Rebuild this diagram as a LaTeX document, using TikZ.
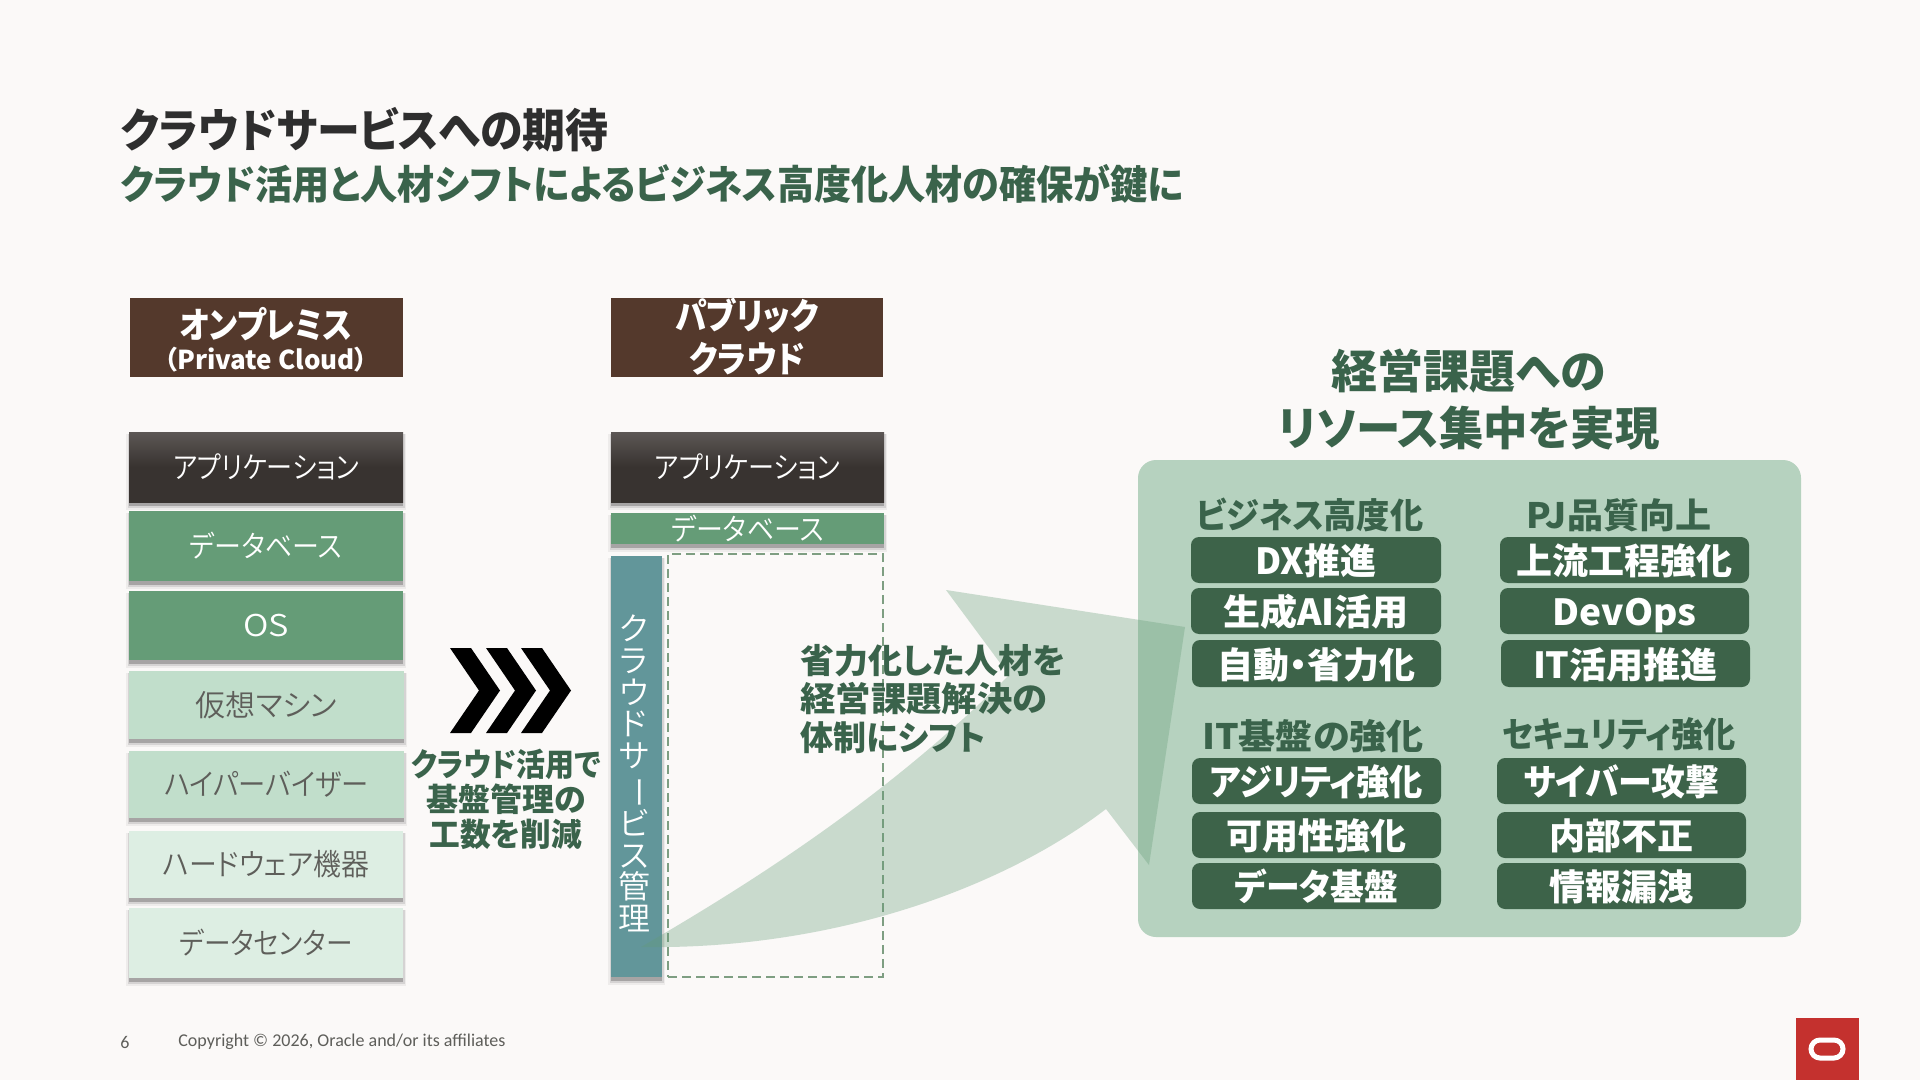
\documentclass[tikz,border=0pt]{standalone}
\usepackage{fontspec}
\usepackage{graphicx}
\setmainfont{Noto Sans CJK JP}[RawFeature=+palt]
\newfontfamily\lightf{Noto Sans CJK JP DemiLight}[RawFeature=+palt]
\newfontfamily\footfont{Carlito}
\definecolor{bgc}{HTML}{FBF9F8}
\definecolor{hdr}{HTML}{54392C}
\definecolor{appT}{HTML}{5C5755}
\definecolor{appB}{HTML}{383330}
\definecolor{midg}{HTML}{659C77}
\definecolor{lightg}{HTML}{C1DECB}
\definecolor{paleg}{HTML}{DDEEE3}
\definecolor{teal}{HTML}{62969A}
\definecolor{panel}{HTML}{B6D2BF}
\definecolor{pill}{HTML}{3D6349}
\definecolor{tgreen}{HTML}{3A634B}
\definecolor{dashc}{HTML}{7E9E82}
\definecolor{orared}{HTML}{C4312E}
\definecolor{graytx}{HTML}{5E5E5A}
\newcommand{\fs}[1]{\fontsize{#1}{#1}\selectfont}
\newcommand{\sx}[2]{\scalebox{#1}[1]{#2}}
\newcommand{\bx}[7]{%
  \pgfmathsetmacro\bxcx{(#2+#4)/2}%
  \pgfmathsetmacro\bxcy{(#3+#5)/2}%
  \pgfmathsetmacro\bxw{(#4-#2)/2}%
  \pgfmathsetmacro\bxh{(#5-#3)/2}%
  \node[#6,minimum width=\bxw pt,minimum height=\bxh pt,inner sep=0pt,outer sep=0pt] (#1) at (\bxcx,\bxcy) {#7};}
\newcommand{\shd}[4]{%
  \fill[black,opacity=.05] (#1-3,#2+2) rectangle (#3+3,#4+8);
  \fill[black,opacity=.10] (#1-1.5,#2+2) rectangle (#3+1.5,#4+6);
  \fill[black,opacity=.22] (#1,#2+2) rectangle (#3,#4+4);}
\tikzset{
  hdrbox/.style={fill=hdr,text=white,align=center},
  appbox/.style={top color=appT,bottom color=appB,middle color=appB,text=white},
  midbox/.style={fill=midg,text=white},
  lightbox/.style={fill=lightg,text=graytx},
  palebox/.style={fill=paleg,text=graytx},
  pillbox/.style={fill=pill,text=white,rounded corners=4pt,font=\bfseries\fs{18},text height=16.5pt,text depth=2pt},
  head/.style={text=tgreen,font=\bfseries\fs{17.5},inner sep=0pt},
  stacktx/.style={font=\lightf\fs{15}},
  say/.style={text=tgreen,font=\bfseries\fs{17},align=left,inner sep=0pt},
}
\begin{document}
\begin{tikzpicture}[x=.5pt,y=-.5pt]
\useasboundingbox (0,0) rectangle (1920,1080);
\fill[bgc] (0,0) rectangle (1920,1080);

% title
\node[anchor=west,inner sep=0pt,text=black!82,font=\bfseries\fs{23}] (title) at (120,130) {\sx{.933}{クラウドサービスへの期待}};
\node[anchor=west,inner sep=0pt,text=tgreen,font=\bfseries\fs{20}] (subtitle) at (120,184) {\sx{.928}{クラウド活用と人材シフトによるビジネス高度化人材の確保が鍵に}};

% headers
\bx{h1}{130}{298}{403}{377}{hdrbox}{}
\node[text=white,font=\bfseries\fs{18},inner sep=0pt] (h1a) at (266,324) {\sx{.87}{オンプレミス}};
\node[text=white,font=\fs{13},inner sep=0pt] (h1b) at (266,360) {\bfseries（Private Cloud）};
\bx{h2}{611}{298}{883}{377}{hdrbox}{}
\node[text=white,font=\bfseries\fs{18},inner sep=0pt] (h2a) at (747,316) {\sx{.88}{パブリック}};
\node[text=white,font=\bfseries\fs{18},inner sep=0pt] (h2b) at (747,359) {\sx{.88}{クラウド}};

% left stack
\shd{129}{432}{403}{502}
\bx{a1}{129}{432}{403}{502}{appbox,stacktx}{\sx{.87}{アプリケーション}}
\shd{129}{511}{403}{581}
\bx{a2}{129}{511}{403}{581}{midbox,stacktx}{\sx{.9}{データベース}}
\shd{129}{591}{403}{660}
\bx{a3}{129}{591}{403}{660}{midbox,stacktx}{\sx{1.15}{OS}}
\shd{129}{671}{404}{739}
\bx{a4}{129}{671}{404}{739}{lightbox,stacktx}{仮想マシン}
\shd{129}{751}{404}{818}
\bx{a5}{129}{751}{404}{818}{lightbox,stacktx}{\sx{.91}{ハイパーバイザー}}
\shd{129}{831}{403}{898}
\bx{a6}{129}{831}{403}{898}{palebox,stacktx}{\sx{.93}{ハードウェア機器}}
\shd{129}{908}{403}{978}
\bx{a7}{129}{908}{403}{978}{palebox,stacktx}{\sx{.89}{データセンター}}

% right stack
\shd{611}{432}{884}{502}
\bx{b1}{611}{432}{884}{502}{appbox,stacktx}{\sx{.87}{アプリケーション}}
\shd{611}{513}{884}{544}
\bx{b2}{611}{513}{884}{544}{midbox,stacktx}{\sx{.9}{データベース}}
\shd{611}{556}{662}{977}
\bx{b3}{611}{556}{662}{977}{fill=teal}{}
\node[text=white,font=\lightf\fs{16},align=center,inner sep=0pt] (b3t) at (634,773.5) {%
ク\\[-.2pt]ラ\\[-.2pt]ウ\\[-.2pt]ド\\[-.2pt]サ\\[-.2pt]\rotatebox[origin=c]{-90}{ー}\\[-.2pt]ビ\\[-.2pt]ス\\[-.2pt]管\\[-.2pt]理};
\bx{b4}{668}{554}{883}{977}{draw=dashc,line width=1.3pt,dash pattern=on 4.5pt off 2.5pt}{}

% chevrons
\foreach \L in {450,486,521}{
  \fill[black] (\L,648) -- (\L+21,648) -- (\L+50,690.5) -- (\L+21,733) -- (\L,733) -- (\L+29,690.5) -- cycle;
}

% panel
\bx{panelbox}{1138}{460}{1801}{937}{fill=panel,rounded corners=9pt}{}
\node[head] (g1) at (1310,515) {\sx{.95}{ビジネス高度化}};
\node[head] (g2) at (1619,515) {\sx{1.03}{PJ品質向上}};
\node[head] (g3) at (1313,736) {\sx{1.06}{IT基盤の強化}};
\node[head] (g4) at (1619,734) {\sx{.92}{セキュリティ強化}};
\bx{p11}{1191}{537}{1441}{583}{pillbox}{DX推進}
\bx{p12}{1191}{588}{1441}{634}{pillbox}{\sx{1.03}{生成AI活用}}
\bx{p13}{1192}{640}{1441}{687}{pillbox}{自動・省力化}
\bx{p21}{1500}{537}{1749}{583}{pillbox}{上流工程強化}
\bx{p22}{1500}{588}{1749}{634}{pillbox}{\sx{1.03}{DevOps}}
\bx{p23}{1501}{640}{1750}{687}{pillbox}{\sx{1.03}{IT活用推進}}
\bx{p31}{1192}{758}{1441}{804}{pillbox}{\sx{.925}{アジリティ強化}}
\bx{p32}{1192}{812}{1441}{858}{pillbox}{可用性強化}
\bx{p33}{1192}{863}{1441}{909}{pillbox}{\sx{.94}{データ基盤}}
\bx{p41}{1497}{758}{1746}{804}{pillbox}{\sx{.94}{サイバー攻撃}}
\bx{p42}{1497}{812}{1746}{858}{pillbox}{内部不正}
\bx{p43}{1497}{863}{1746}{909}{pillbox}{情報漏洩}

% big arrow
\fill[fill=midg,opacity=.33] (641,947) .. controls (730,895) and (880,805) .. (1009,675)
  -- (946,590) -- (1185,627) -- (1149,865) -- (1106,809)
  .. controls (1000,890) and (830,950) .. (641,947) -- cycle;

% captions
\node[text=tgreen,font=\bfseries\fs{16},inner sep=0pt] (cap1) at (506,764) {\sx{.905}{クラウド活用で}};
\node[text=tgreen,font=\bfseries\fs{16},inner sep=0pt] (cap2) at (506,799) {基盤管理の};
\node[text=tgreen,font=\bfseries\fs{16},inner sep=0pt] (cap3) at (506,834) {\sx{.96}{工数を削減}};
\node[say,anchor=west] (say1) at (800,661) {省力化した人材を};
\node[say,anchor=west] (say2) at (800,699) {\sx{1.04}{経営課題解決の}};
\node[say,anchor=west] (say3) at (800,738) {\sx{.97}{体制にシフト}};
\node[text=tgreen,font=\bfseries\fs{23},inner sep=0pt] (big1) at (1469,371) {経営課題への};
\node[text=tgreen,font=\bfseries\fs{23},inner sep=0pt] (big2) at (1469,428) {\sx{.965}{リソース集中を実現}};

% footer
\node[anchor=west,inner sep=0pt,text=graytx,font=\footfont\fs{9}] (pg) at (120,1042) {6};
\node[anchor=west,inner sep=0pt,text=graytx,font=\footfont\fs{9}] (copy) at (178,1042) {Copyright © 2026, Oracle and/or its affiliates};
\bx{logo}{1796}{1018}{1859}{1080}{fill=orared}{}
\bx{ring}{1811}{1040}{1843}{1058}{draw=white,line width=2.5pt,rounded corners=4.5pt}{}
\end{tikzpicture}
\end{document}
